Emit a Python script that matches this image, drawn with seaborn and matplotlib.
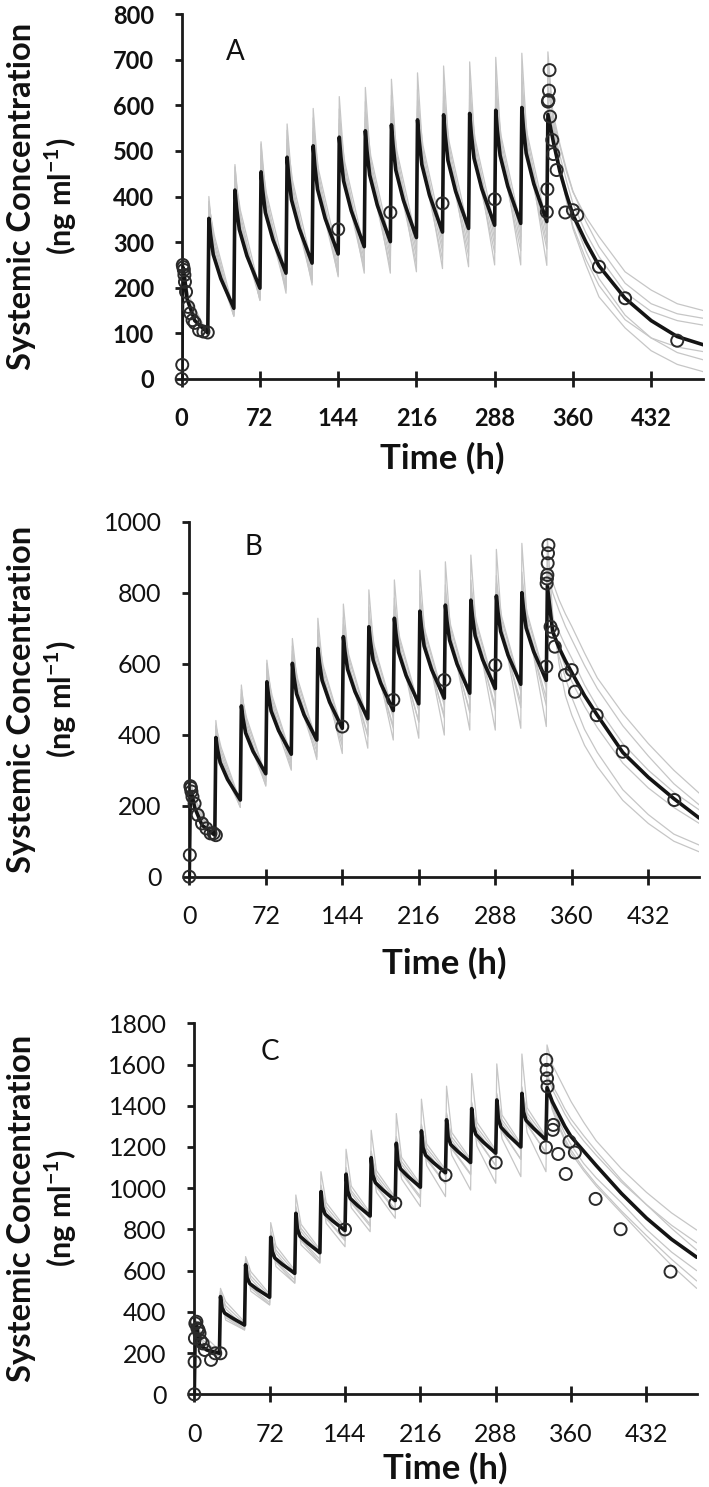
import matplotlib
matplotlib.use("Agg")
import matplotlib.pyplot as plt
import seaborn as sns
import pandas as pd

# ---------------- data ----------------
TAIL_T = [342, 348, 354, 360, 372, 384, 408, 432, 456, 480]
X_TICKS = [0, 72, 144, 216, 288, 360, 432]

# Panel A (mean simulated profile: black)
A_peak = [245, 352, 414, 454, 486, 511, 530, 544, 557, 568, 579, 582, 589, 595, 580]
A_m2 = [225, 317, 375, 414, 444, 468, 487, 500, 513, 524, 534, 538, 544, 550]
A_m5 = [175, 273, 328, 365, 393, 416, 434, 447, 458, 470, 479, 484, 490, 495]
A_m12 = [128, 220, 270, 305, 331, 352, 369, 381, 392, 403, 412, 418, 423, 428]
A_trough = [101, 155, 199, 232, 254, 274, 290, 301, 310, 322, 330, 337, 341, 345]
A_tail = [520, 455, 405, 360, 300, 248, 177, 128, 93, 75]
# Panel A individual simulations (gray)
A_g1_peak = [270, 389, 465, 520, 559, 593, 619, 639, 657, 671, 686, 695, 705, 714, 717]
A_g1_mid = [178, 295, 350, 387, 415, 438, 456, 469, 480, 492, 501, 506, 512, 517]
A_g1_trough = [95, 137, 173, 188, 206, 224, 232, 232, 235, 242, 246, 250, 250, 249]
A_g1_tail = [570, 470, 395, 330, 250, 180, 112, 62, 32, 16]
A_g2_peak = [255, 365, 430, 470, 502, 527, 546, 560, 573, 584, 594, 598, 604, 610, 600]
A_g2_mid = [170, 275, 330, 367, 395, 418, 436, 449, 460, 472, 481, 486, 492, 497]
A_g2_trough = [100, 140, 180, 200, 218, 235, 250, 260, 268, 280, 286, 294, 298, 300]
A_g2_tail = [545, 470, 410, 355, 280, 220, 140, 90, 58, 42]
A_g3_peak = [260, 380, 445, 490, 525, 550, 570, 585, 598, 610, 620, 625, 632, 638, 630]
A_g3_mid = [185, 315, 370, 407, 435, 458, 476, 489, 500, 512, 521, 526, 532, 537]
A_g3_trough = [98, 150, 194, 227, 249, 269, 285, 296, 305, 317, 325, 332, 336, 340]
A_g3_tail = [570, 510, 455, 410, 355, 312, 235, 195, 165, 150]
A_g4_peak = [255, 375, 440, 480, 512, 536, 555, 569, 582, 593, 604, 607, 614, 620, 610]
A_g4_mid = [175, 285, 340, 377, 405, 428, 446, 459, 470, 482, 491, 496, 502, 507]
A_g4_trough = [100, 145, 188, 218, 240, 260, 276, 287, 296, 307, 315, 322, 326, 330]
A_g4_tail = [555, 490, 435, 385, 320, 268, 190, 148, 128, 118]
A_g5_peak = [258, 382, 444, 484, 516, 541, 560, 574, 587, 598, 609, 612, 619, 625, 640]
A_g5_mid = [180, 305, 360, 397, 425, 448, 466, 479, 490, 502, 511, 516, 522, 527]
A_g5_trough = [99, 140, 172, 203, 224, 244, 260, 271, 280, 292, 300, 307, 311, 315]
A_g5_tail = [580, 515, 460, 412, 345, 290, 210, 165, 143, 133]
A_g6_peak = [265, 400, 470, 515, 545, 572, 592, 608, 622, 634, 645, 652, 660, 668, 690]
A_g6_mid = [168, 265, 320, 357, 385, 408, 426, 439, 450, 462, 471, 476, 482, 487]
A_g6_trough = [97, 138, 175, 195, 212, 228, 240, 245, 252, 262, 270, 277, 281, 285]
A_g6_tail = [560, 460, 390, 335, 262, 205, 130, 90, 70, 60]
# Panel A observations
A_obs_t = [0, 0.5, 1, 1.5, 2, 2.5, 3, 4, 6, 8, 10, 12, 16, 20, 24, 144, 192, 240, 288,
           336, 336.5, 337, 337.5, 338, 338.5, 339, 341, 342, 345, 353, 360, 364, 384, 408, 456]
A_obs_v = [0, 31, 250, 245, 239, 228, 213, 191, 158, 144, 129, 123, 107, 104, 102, 328, 365, 385, 394,
           366, 416, 608, 611, 632, 677, 575, 524, 493, 458, 365, 370, 359, 246, 177, 84]

# Panel B
B_peak = [240, 392, 481, 549, 601, 643, 676, 704, 728, 748, 765, 779, 791, 800, 818]
B_m2 = [232, 360, 447, 512, 562, 603, 634, 662, 685, 704, 720, 734, 746, 756]
B_m5 = [195, 322, 405, 467, 515, 553, 584, 610, 632, 650, 666, 679, 691, 701]
B_m12 = [145, 274, 353, 412, 456, 492, 521, 546, 567, 584, 599, 612, 624, 635]
B_trough = [117, 216, 290, 345, 385, 418, 445, 468, 487, 503, 517, 530, 542, 553]
B_tail = [690, 645, 608, 575, 510, 455, 350, 280, 220, 165]
B_g1_peak = [260, 423, 528, 610, 671, 728, 768, 808, 836, 863, 887, 906, 922, 939, 953]
B_g1_mid = [200, 344, 427, 489, 537, 575, 606, 632, 654, 672, 688, 701, 713, 723]
B_g1_trough = [110, 195, 255, 305, 330, 347, 362, 385, 390, 399, 413, 413, 418, 423]
B_g1_tail = [740, 600, 510, 455, 370, 310, 215, 150, 100, 70]
B_g2_peak = [255, 410, 500, 570, 622, 665, 698, 726, 750, 770, 787, 801, 813, 822, 840]
B_g2_mid = [190, 324, 407, 469, 517, 555, 586, 612, 634, 652, 668, 681, 693, 703]
B_g2_trough = [112, 200, 268, 318, 352, 380, 400, 423, 435, 447, 462, 468, 476, 482]
B_g2_tail = [700, 620, 560, 505, 415, 350, 245, 175, 120, 89]
B_g3_peak = [270, 425, 515, 585, 636, 678, 711, 739, 763, 783, 800, 814, 826, 835, 870]
B_g3_mid = [215, 364, 447, 509, 557, 595, 626, 652, 674, 692, 708, 721, 733, 743]
B_g3_trough = [114, 211, 285, 340, 380, 413, 440, 463, 482, 498, 512, 525, 537, 548]
B_g3_tail = [830, 780, 740, 705, 630, 560, 460, 375, 300, 235]
B_g4_peak = [255, 407, 496, 564, 616, 658, 691, 719, 743, 763, 780, 794, 806, 815, 835]
B_g4_mid = [200, 334, 417, 479, 527, 565, 596, 622, 644, 662, 678, 691, 703, 713]
B_g4_trough = [112, 200, 272, 325, 365, 398, 425, 448, 467, 483, 497, 510, 522, 533]
B_g4_tail = [730, 690, 650, 615, 540, 478, 375, 300, 238, 188]
B_g5_peak = [258, 417, 506, 574, 626, 668, 701, 729, 753, 773, 790, 804, 816, 825, 860]
B_g5_mid = [210, 354, 437, 499, 547, 585, 616, 642, 664, 682, 698, 711, 723, 733]
B_g5_trough = [113, 206, 280, 333, 373, 406, 433, 456, 475, 491, 505, 518, 530, 541]
B_g5_tail = [800, 750, 705, 668, 595, 530, 425, 340, 262, 202]
B_g6_peak = [262, 440, 540, 600, 650, 695, 730, 760, 785, 805, 822, 836, 848, 858, 900]
B_g6_mid = [187, 314, 397, 459, 507, 545, 576, 602, 624, 642, 658, 671, 683, 693]
B_g6_trough = [111, 196, 258, 300, 337, 368, 395, 418, 437, 453, 467, 480, 492, 503]
B_g6_tail = [700, 640, 590, 550, 480, 420, 320, 250, 195, 150]
B_obs_t = [0, 0.5, 1, 1.5, 2, 3, 5, 8, 12, 16, 20, 23, 25, 144, 192, 240, 288,
           336, 336.3, 336.6, 337, 337.3, 337.6, 338, 340, 342, 344, 353.6, 359.9, 363, 383.4, 407.9, 456.5]
B_obs_v = [0, 61, 255, 250, 240, 225, 206, 174, 150, 136, 122, 122, 117, 423, 498, 554, 596,
           592, 826, 840, 850, 883, 911, 934, 704, 690, 648, 568, 582, 521, 455, 352, 216]

# Panel C
C_peak = [345, 474, 628, 762, 878, 983, 1068, 1148, 1218, 1278, 1332, 1386, 1428, 1460, 1488]
C_m2 = [330, 419, 565, 692, 802, 908, 987, 1065, 1133, 1197, 1249, 1300, 1337, 1370]
C_m5 = [240, 394, 537, 661, 767, 874, 950, 1027, 1094, 1160, 1212, 1261, 1296, 1329]
C_m12 = [215, 371, 510, 631, 735, 842, 916, 992, 1058, 1126, 1177, 1224, 1257, 1291]
C_trough = [199, 336, 471, 587, 687, 795, 865, 940, 1005, 1075, 1125, 1170, 1200, 1234]
C_tail = [1420, 1360, 1300, 1250, 1180, 1110, 975, 855, 752, 665]
C_g1_peak = [370, 514, 668, 833, 967, 1080, 1189, 1281, 1362, 1432, 1495, 1556, 1603, 1651, 1695]
C_g1_mid = [300, 450, 595, 720, 825, 930, 1010, 1085, 1150, 1215, 1270, 1320, 1355, 1390]
C_g1_trough = [214, 351, 486, 602, 702, 810, 880, 955, 1020, 1090, 1140, 1185, 1215, 1250]
C_g1_tail = [1600, 1540, 1480, 1420, 1320, 1230, 1095, 980, 880, 797]
C_g2_peak = [350, 484, 638, 772, 888, 993, 1078, 1158, 1228, 1288, 1342, 1396, 1438, 1470, 1520]
C_g2_mid = [220, 360, 500, 620, 725, 830, 905, 980, 1045, 1110, 1160, 1205, 1240, 1270]
C_g2_trough = [185, 312, 433, 539, 636, 716, 789, 854, 911, 959, 991, 1024, 1056, 1080]
C_g2_tail = [1380, 1300, 1230, 1170, 1085, 1010, 880, 750, 625, 514]
C_g3_peak = [360, 500, 655, 795, 910, 1015, 1100, 1180, 1250, 1310, 1365, 1418, 1460, 1492, 1560]
C_g3_mid = [260, 415, 560, 685, 790, 895, 975, 1050, 1115, 1180, 1232, 1280, 1316, 1348]
C_g3_trough = [195, 326, 460, 575, 675, 780, 850, 925, 990, 1060, 1110, 1155, 1185, 1220]
C_g3_tail = [1480, 1420, 1360, 1310, 1230, 1160, 1030, 920, 820, 735]
C_g4_peak = [355, 490, 645, 780, 895, 1000, 1085, 1165, 1235, 1295, 1350, 1404, 1446, 1478, 1530]
C_g4_mid = [230, 380, 522, 645, 750, 855, 935, 1010, 1078, 1145, 1195, 1245, 1280, 1312]
C_g4_trough = [192, 318, 445, 555, 655, 755, 825, 898, 960, 1025, 1070, 1110, 1140, 1170]
C_g4_tail = [1400, 1330, 1265, 1210, 1120, 1050, 930, 800, 690, 600]
C_g5_peak = [352, 494, 648, 782, 898, 1003, 1088, 1168, 1238, 1298, 1352, 1406, 1448, 1480, 1545]
C_g5_mid = [270, 430, 575, 700, 805, 910, 988, 1065, 1130, 1195, 1248, 1296, 1332, 1365]
C_g5_trough = [203, 341, 476, 592, 692, 800, 870, 945, 1010, 1080, 1130, 1175, 1205, 1240]
C_g5_tail = [1500, 1445, 1385, 1335, 1255, 1180, 1040, 920, 805, 700]
C_g6_peak = [358, 498, 652, 787, 903, 1008, 1093, 1173, 1243, 1303, 1357, 1411, 1453, 1485, 1510]
C_g6_mid = [225, 372, 515, 640, 745, 852, 928, 1005, 1072, 1138, 1190, 1238, 1273, 1306]
C_g6_trough = [188, 312, 435, 540, 640, 745, 815, 888, 950, 1020, 1065, 1110, 1140, 1175]
C_g6_tail = [1390, 1310, 1240, 1185, 1095, 1020, 890, 770, 655, 550]
C_obs_t = [0, 0.3, 0.6, 1, 2, 3, 4, 5, 6, 8, 10, 16, 20, 25, 144, 192, 240, 288,
           336, 336.3, 336.6, 337, 337.5, 342.5, 343, 347.7, 354.9, 358.5, 363.6, 383.4, 407.3, 455]
C_obs_v = [0, 158, 272, 344, 352, 320, 312, 296, 260, 247, 215, 167, 199, 199, 800, 927, 1064, 1124,
           1198, 1622, 1574, 1533, 1493, 1283, 1307, 1166, 1069, 1226, 1173, 948, 801, 595]


def build(peak, mids, offsets, trough, tail):
    t, v = [0.0], [0.0]
    for k in range(14):
        d = 24 * k
        t.append(d + 1.0); v.append(peak[k])
        for off, m in zip(offsets, mids):
            t.append(d + off); v.append(m[k])
        t.append(d + 24.0); v.append(trough[k])
    t.append(337.0); v.append(peak[14])
    t += TAIL_T; v += tail
    return t, v


def line_frame(series_list, offsets):
    rows = []
    for i, (pk, mids, tr, tl) in enumerate(series_list):
        t, v = build(pk, mids, offsets, tr, tl)
        rows.append(pd.DataFrame({"t": t, "v": v, "line": i}))
    return pd.concat(rows, ignore_index=True)


panels = [
    dict(label="A", box=(181.7, 14, 703.3, 379), ymax=800, ystep=100, bold=True,
         black=[(A_peak, [A_m2, A_m5, A_m12], A_trough, A_tail)],
         gray=[(A_g1_peak, [A_g1_mid], A_g1_trough, A_g1_tail),
               (A_g2_peak, [A_g2_mid], A_g2_trough, A_g2_tail),
               (A_g3_peak, [A_g3_mid], A_g3_trough, A_g3_tail),
               (A_g4_peak, [A_g4_mid], A_g4_trough, A_g4_tail),
               (A_g5_peak, [A_g5_mid], A_g5_trough, A_g5_tail),
               (A_g6_peak, [A_g6_mid], A_g6_trough, A_g6_tail)],
         obs=(A_obs_t, A_obs_v), letter_xy=(49, 717), time_y=458),
    dict(label="B", box=(189.3, 521.7, 699.3, 876.7), ymax=1000, ystep=200, bold=False,
         black=[(B_peak, [B_m2, B_m5, B_m12], B_trough, B_tail)],
         gray=[(B_g1_peak, [B_g1_mid], B_g1_trough, B_g1_tail),
               (B_g2_peak, [B_g2_mid], B_g2_trough, B_g2_tail),
               (B_g3_peak, [B_g3_mid], B_g3_trough, B_g3_tail),
               (B_g4_peak, [B_g4_mid], B_g4_trough, B_g4_tail),
               (B_g5_peak, [B_g5_mid], B_g5_trough, B_g5_tail),
               (B_g6_peak, [B_g6_mid], B_g6_trough, B_g6_tail)],
         obs=(B_obs_t, B_obs_v), letter_xy=(60, 930), time_y=963),
    dict(label="C", box=(194.3, 1023.3, 696.7, 1394.3), ymax=1800, ystep=200, bold=False,
         black=[(C_peak, [C_m2, C_m5, C_m12], C_trough, C_tail)],
         gray=[(C_g1_peak, [C_g1_mid], C_g1_trough, C_g1_tail),
               (C_g2_peak, [C_g2_mid], C_g2_trough, C_g2_tail),
               (C_g3_peak, [C_g3_mid], C_g3_trough, C_g3_tail),
               (C_g4_peak, [C_g4_mid], C_g4_trough, C_g4_tail),
               (C_g5_peak, [C_g5_mid], C_g5_trough, C_g5_tail),
               (C_g6_peak, [C_g6_mid], C_g6_trough, C_g6_tail)],
         obs=(C_obs_t, C_obs_v), letter_xy=(72, 1662), time_y=1468),
]

# ---------------- figure ----------------
sns.set_style("ticks")
plt.rcParams["font.family"] = ["Lato", "DejaVu Sans"]
plt.rcParams["mathtext.fontset"] = "custom"
plt.rcParams["mathtext.rm"] = "Lato"
plt.rcParams["mathtext.bf"] = "Lato:bold"

W, H = 709, 1487
fig = plt.figure(figsize=(W / 100, H / 100), dpi=100)
fig.patch.set_facecolor("white")

for p in panels:
    x0, y0, x1, y1 = p["box"]
    ax = fig.add_axes([x0 / W, 1 - y1 / H, (x1 - x0) / W, (y1 - y0) / H])
    ax.set_facecolor("white")

    gdf = line_frame(p["gray"], [6])
    sns.lineplot(data=gdf, x="t", y="v", units="line", estimator=None, sort=False,
                 color="#c6c6c6", linewidth=0.9, legend=False, ax=ax, zorder=2)
    bdf = line_frame(p["black"], [2.5, 5, 12])
    sns.lineplot(data=bdf, x="t", y="v", units="line", estimator=None, sort=False,
                 color="#141414", linewidth=2.6, legend=False, ax=ax, zorder=3)
    ot, ov = p["obs"]
    sns.scatterplot(x=ot, y=ov, marker="o", s=75, facecolor="none", edgecolor="#2a2a2a",
                    linewidth=1.4, ax=ax, zorder=4, legend=False)
    ax.collections[-1].set_clip_on(False)

    ax.set_xlim(0, 480)
    ax.set_ylim(0, p["ymax"])
    ax.set_xticks(X_TICKS)
    ax.set_yticks(list(range(0, p["ymax"] + 1, p["ystep"])))
    ax.set_xlabel("")
    ax.set_ylabel("")
    sns.despine(ax=ax)
    for s in ("left", "bottom"):
        ax.spines[s].set_linewidth(2.0)
        ax.spines[s].set_color("#1a1a1a")
    fw = "bold" if p["bold"] else "normal"
    fs = 17 if p["bold"] else 18
    ax.tick_params(axis="x", direction="inout", length=11, width=2.0, color="#1a1a1a",
                   pad=15, labelsize=fs)
    ax.tick_params(axis="y", direction="out", length=5, width=2.0, color="#1a1a1a",
                   pad=15, labelsize=fs)
    for lab in ax.get_xticklabels() + ax.get_yticklabels():
        lab.set_fontweight(fw)
        lab.set_color("#111111")

    ax.text(p["letter_xy"][0], p["letter_xy"][1], p["label"], fontsize=20,
            ha="center", va="center", color="#111111")

    cx = (x0 + x1) / 2
    fig.text(cx / W, 1 - p["time_y"] / H, "Time (h)", fontsize=25, fontweight="bold",
             ha="center", va="center", color="#111111")
    cy = (y0 + y1) / 2
    fig.text(22 / W, 1 - cy / H, "Systemic Concentration", fontsize=23.5, fontweight="bold",
             rotation=90, ha="center", va="center", color="#111111")
    fig.text(61 / W, 1 - cy / H, r"(ng ml$^{\mathbf{-1}}$)", fontsize=22, fontweight="bold",
             rotation=90, ha="center", va="center", color="#111111")

fig.savefig("out.png", dpi=100, facecolor="white")
